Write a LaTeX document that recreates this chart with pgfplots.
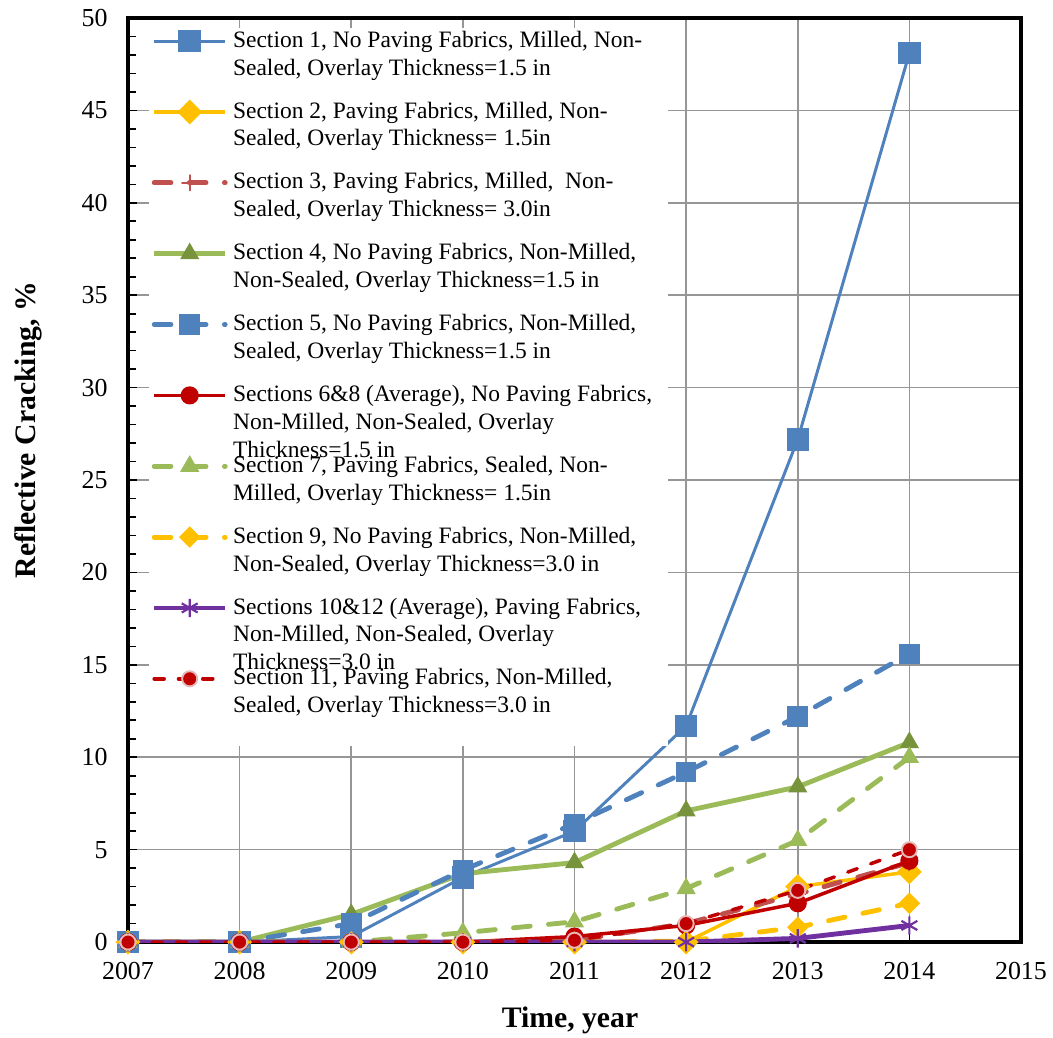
\documentclass[border=0pt]{standalone}
\usepackage{pgfplots}
\pgfplotsset{compat=1.18}
\usepackage{fontspec}
\setmainfont{Liberation Serif}
\definecolor{cblue}{HTML}{4F81BD}
\definecolor{cyel}{HTML}{FFC000}
\definecolor{clred}{HTML}{C0504D}
\definecolor{cgreen}{HTML}{9BBB59}
\definecolor{cdgreen}{HTML}{77933C}
\definecolor{cred}{HTML}{C00000}
\definecolor{cpink}{HTML}{E6B9B8}
\definecolor{cpurp}{HTML}{7030A0}
\definecolor{cgrid}{HTML}{969696}
\newcommand{\lent}[1]{\parbox[t][20pt][t]{160pt}{\raggedright #1}}
\pgfplotsset{
  myleg/.style={legend image code/.code={\draw[mark repeat=2,mark phase=2] plot coordinates {(0pt,0pt)(13.15pt,0pt)(26.3pt,0pt)};}}
}
\begin{document}
\begin{tikzpicture}
\begin{axis}[
  scale only axis,
  width=330.7pt, height=342.2pt,
  xmin=2007, xmax=2015, ymin=0, ymax=50,
  xtick={2007,2008,...,2015}, ytick={0,5,...,50},
  minor x tick num=7, minor y tick num=4,
  xtick pos=bottom, ytick pos=left,
  tick align=inside,
  major tick length=3.3pt, minor tick length=3pt,
  every tick/.style={black, line width=0.6pt},
  grid=major,
  major grid style={cgrid, line width=0.6pt},
  axis line style={black, line width=1.2pt},
  /pgf/number format/assume math mode=true,
  /pgf/number format/1000 sep={},
  tick label style={font=\fontsize{9.6}{11}\selectfont},
  yticklabel style={xshift=-4pt},
  xticklabel style={yshift=-4pt},
  xlabel={Time, year},
  ylabel={Reflective Cracking, \%},
  every axis x label/.style={at={(axis description cs:0.495,-0.0845)}, anchor=center, font=\fontsize{11}{13}\selectfont\bfseries},
  every axis y label/.style={at={(axis description cs:-0.112,0.554)}, rotate=90, anchor=center, font=\fontsize{11}{13}\selectfont\bfseries},
  legend style={at={(rel axis cs:0,1)}, anchor=north west, xshift=7.6pt, yshift=-3.6pt,
    draw=none, fill=white, inner sep=1pt, row sep=18.7pt, column sep=2pt,
    nodes={inner sep=0pt}, font=\fontsize{8.7}{10.3}\selectfont},
  legend cell align=left,
  myleg,
]
\coordinate (bl) at (rel axis cs:0,0);
\coordinate (tr) at (rel axis cs:1,1);
% Section 1
\addplot[cblue, line width=1.1pt, mark=square*, mark size=3.6pt, mark options={solid, fill=cblue, draw=cblue}]
  coordinates {(2007,0)(2008,0)(2009,0.3)(2010,3.5)(2011,6.0)(2012,11.7)(2013,27.2)(2014,48.1)};
\addlegendentry{\lent{Section 1, No Paving Fabrics, Milled, Non-\\Sealed, Overlay Thickness=1.5 in}}
% Section 2
\addplot[cyel, line width=1.3pt, mark=square*, mark size=2.6pt, mark options={solid, rotate=45, fill=cyel, draw=cyel}]
  coordinates {(2007,0)(2008,0)(2009,0)(2010,0)(2011,0)(2012,0)(2013,3.0)(2014,3.8)};
\addlegendentry{\lent{Section 2, Paving Fabrics, Milled, Non-\\Sealed, Overlay Thickness= 1.5in}}
% Section 3
\addplot[clred, line width=1.8pt, line cap=round, dash pattern=on 6.2pt off 6.8pt, mark=+, mark size=2.8pt, mark options={solid, line width=0.8pt, draw=clred}]
  coordinates {(2007,0)(2008,0)(2009,0)(2010,0)(2011,0.1)(2012,1.0)(2013,2.6)(2014,4.3)};
\addlegendentry{\lent{Section 3, Paving Fabrics, Milled,\ \ Non-\\Sealed, Overlay Thickness= 3.0in}}
% Section 4
\addplot[cgreen, line width=1.8pt, mark=triangle*, mark size=3.7pt, mark options={solid, fill=cdgreen, draw=cdgreen, line width=0.4pt}]
  coordinates {(2007,0)(2008,0)(2009,1.5)(2010,3.7)(2011,4.3)(2012,7.1)(2013,8.4)(2014,10.8)};
\addlegendentry{\lent{Section 4, No Paving Fabrics, Non-Milled,\\Non-Sealed, Overlay Thickness=1.5 in}}
% Section 5
\addplot[cblue, line width=1.8pt, line cap=round, dash pattern=on 6.2pt off 6.8pt, mark=square*, mark size=3.6pt, mark options={solid, fill=cblue, draw=cblue, line width=0.4pt}]
  coordinates {(2007,0)(2008,0)(2009,1.0)(2010,3.9)(2011,6.4)(2012,9.2)(2013,12.2)(2014,15.6)};
\addlegendentry{\lent{Section 5, No Paving Fabrics, Non-Milled,\\Sealed, Overlay Thickness=1.5 in}}
% Sections 6&8
\addplot[cred, line width=1.3pt, mark=*, mark size=2.7pt, mark options={solid, fill=cred, draw=cred}]
  coordinates {(2007,0)(2008,0)(2009,0)(2010,0)(2011,0.3)(2012,0.9)(2013,2.1)(2014,4.4)};
\addlegendentry{\lent{Sections 6\&8 (Average), No Paving Fabrics,\\Non-Milled, Non-Sealed, Overlay\\Thickness=1.5 in}}
% Section 7
\addplot[cgreen, line width=1.8pt, line cap=round, dash pattern=on 6.2pt off 6.8pt, mark=triangle*, mark size=3.7pt, mark options={solid, fill=cgreen, draw=cgreen, line width=0.4pt}]
  coordinates {(2007,0)(2008,0)(2009,0)(2010,0.5)(2011,1.1)(2012,2.9)(2013,5.5)(2014,10.0)};
\addlegendentry{\lent{Section 7, Paving Fabrics, Sealed, Non-\\Milled, Overlay Thickness= 1.5in}}
% Section 9
\addplot[cyel, line width=1.8pt, line cap=round, dash pattern=on 6.2pt off 6.8pt, mark=square*, mark size=2.6pt, mark options={solid, rotate=45, fill=cyel, draw=cyel, line width=0.4pt}]
  coordinates {(2007,0)(2008,0)(2009,0)(2010,0)(2011,0)(2012,0.05)(2013,0.8)(2014,2.1)};
\addlegendentry{\lent{Section 9, No Paving Fabrics, Non-Milled,\\Non-Sealed, Overlay Thickness=3.0 in}}
% Sections 10&12
\addplot[cpurp, line width=1.8pt, mark=asterisk, mark size=3.4pt, mark options={solid, draw=cpurp, line width=0.8pt}]
  coordinates {(2007,0)(2008,0)(2009,0)(2010,0)(2011,0)(2012,0)(2013,0.2)(2014,0.9)};
\addlegendentry{\lent{Sections 10\&12 (Average), Paving Fabrics,\\Non-Milled, Non-Sealed, Overlay\\Thickness=3.0 in}}
% Section 11
\addplot[cred, line width=1.3pt, line cap=round, dash pattern=on 3.7pt off 5.3pt, mark=*, mark size=2.8pt, mark options={solid, fill=cred, draw=cpink, line width=0.7pt}]
  coordinates {(2007,0)(2008,0)(2009,0)(2010,0)(2011,0.1)(2012,1.0)(2013,2.8)(2014,5.0)};
\addlegendentry{\lent{Section 11, Paving Fabrics, Non-Milled,\\Sealed, Overlay Thickness=3.0 in}}
\addlegendimage{empty legend}
\addlegendentry{}
\end{axis}
\pgfresetboundingbox
\path[use as bounding box] ([xshift=-47.4pt,yshift=-35.2pt]bl) rectangle ([xshift=11.85pt,yshift=6.67pt]tr);
\end{tikzpicture}
\end{document}
